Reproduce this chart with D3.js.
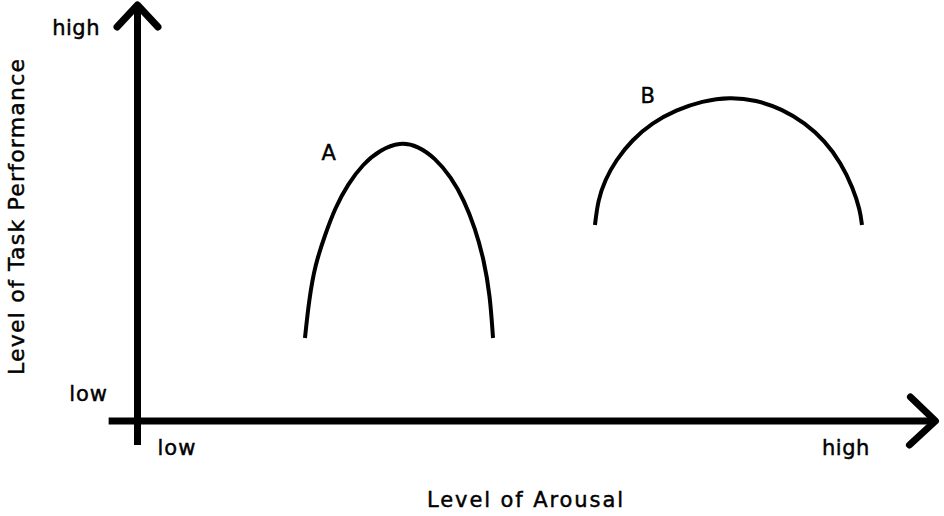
<!DOCTYPE html>
<html>
<head>
<meta charset="utf-8">
<script src="https://cdn.jsdelivr.net/npm/d3@7"></script>
<style>
  html, body { margin: 0; padding: 0; background: #fff; }
  svg { display: block; }
  text { font-family: "DejaVu Sans", "Liberation Sans", sans-serif; fill: #000; stroke: #000; stroke-width: 0.45; }
</style>
</head>
<body>
<svg id="chart" width="944" height="516"></svg>
<script>
// ---- data (arousal 0-100, performance 0-100) ----
const curveAArousal = [21.47, 21.99, 22.76, 24.04, 25.32, 26.99, 28.91, 31.09, 33.65, 35.96, 38.14, 40.19, 41.86, 43.27, 44.42, 45.19, 45.58];
const curveAPerf    = [20.75, 30.25, 39.0, 46.5, 53.25, 59.25, 64.25, 67.75, 69.75, 68.75, 65.75, 61.0, 55.25, 48.25, 40.25, 31.5, 20.75];
const curveBArousal = [58.65, 59.04, 59.94, 61.35, 63.4, 65.96, 69.04, 72.37, 75.96, 79.29, 82.63, 85.58, 88.14, 90.19, 91.73, 92.63, 92.88];
const curveBPerf    = [49.0, 55.25, 60.25, 65.25, 70.25, 74.5, 77.75, 80.0, 81.0, 80.25, 78.0, 74.5, 70.0, 64.5, 58.25, 52.75, 49.0];
const curveNames = ["A", "B"];
const curveLabelPos = [{x: 23.6, y: 65.25}, {x: 64.5, y: 79.5}];
const xTickLabels = ["low", "high"];
const yTickLabels = ["low", "high"];
const xTitle = "Level of Arousal";
const yTitle = "Level of Task Performance";

const svg = d3.select("#chart");
const x = d3.scaleLinear().domain([0, 100]).range([137.5, 917.5]);
const y = d3.scaleLinear().domain([0, 100]).range([421, 21]);

// axis extents (data units)
const xAxisMin = -3.7, xAxisMax = 102.3;
const yAxisMin = -6, yAxisMax = 104;

const g = svg.append("g");

// horizontal axis
g.append("line")
  .attr("x1", x(xAxisMin)).attr("x2", x(xAxisMax))
  .attr("y1", y(0)).attr("y2", y(0))
  .attr("stroke", "#000").attr("stroke-width", 7);
// vertical axis
g.append("line")
  .attr("x1", x(0)).attr("x2", x(0))
  .attr("y1", y(yAxisMin)).attr("y2", y(yAxisMax))
  .attr("stroke", "#000").attr("stroke-width", 7);

// arrow heads
const vtipX = x(0), vtipY = y(yAxisMax);
g.append("path")
  .attr("d", `M${vtipX - 20.5},${vtipY + 22} L${vtipX},${vtipY} L${vtipX + 20.5},${vtipY + 22}`)
  .attr("fill", "none").attr("stroke", "#000").attr("stroke-width", 7)
  .attr("stroke-linejoin", "round").attr("stroke-linecap", "round");
const htipX = x(xAxisMax), htipY = y(0);
g.append("path")
  .attr("d", `M${htipX - 25},${htipY - 24} L${htipX},${htipY} L${htipX - 26},${htipY + 24}`)
  .attr("fill", "none").attr("stroke", "#000").attr("stroke-width", 7)
  .attr("stroke-linejoin", "round").attr("stroke-linecap", "round");

// curves
const line = d3.line()
  .x(d => x(d[0])).y(d => y(d[1]))
  .curve(d3.curveBasis);
const seriesA = curveAArousal.map((v, i) => [v, curveAPerf[i]]);
const seriesB = curveBArousal.map((v, i) => [v, curveBPerf[i]]);
[seriesA, seriesB].forEach(s => {
  g.append("path").datum(s).attr("d", line)
    .attr("fill", "none").attr("stroke", "#000").attr("stroke-width", 4)
    .attr("stroke-linecap", "butt");
});
curveNames.forEach((n, i) => {
  g.append("text").attr("x", x(curveLabelPos[i].x)).attr("y", y(curveLabelPos[i].y))
    .attr("font-size", 21).text(n);
});

// tick labels
g.append("text").attr("x", x(0) + 20).attr("y", 455).attr("font-size", 21)
  .attr("letter-spacing", 1).text(xTickLabels[0]);
g.append("text").attr("x", 822).attr("y", 455).attr("font-size", 21)
  .attr("letter-spacing", 0.5).text(xTickLabels[1]);
g.append("text").attr("x", 108).attr("y", 401).attr("text-anchor", "end").attr("font-size", 21)
  .attr("letter-spacing", 1).text(yTickLabels[0]);
g.append("text").attr("x", 100).attr("y", 35).attr("text-anchor", "end").attr("font-size", 21)
  .attr("letter-spacing", 0.5).text(yTickLabels[1]);

// axis titles
g.append("text").attr("x", 427).attr("y", 507).attr("font-size", 21)
  .attr("textLength", 196).attr("lengthAdjust", "spacing").text(xTitle);
g.append("text").attr("transform", "translate(24,375) rotate(-90)")
  .attr("font-size", 22)
  .attr("textLength", 316).attr("lengthAdjust", "spacing").text(yTitle);
</script>
</body>
</html>
